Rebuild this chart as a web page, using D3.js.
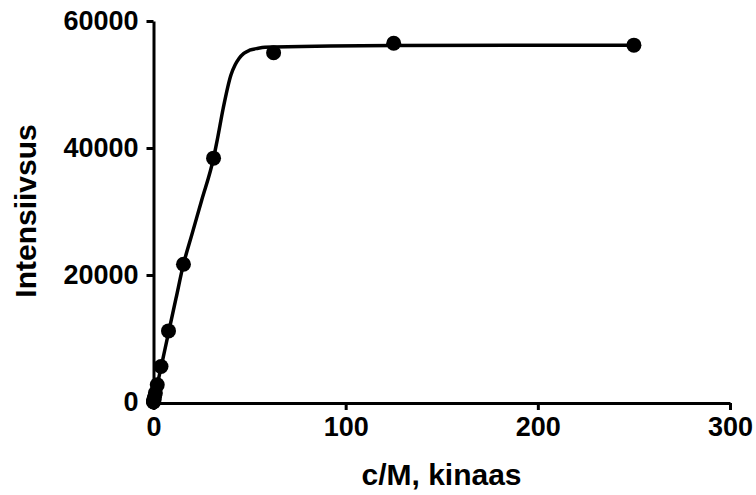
<!DOCTYPE html>
<html>
<head>
<meta charset="utf-8">
<script src="https://cdn.jsdelivr.net/npm/d3@7"></script>
<style>
    body { margin: 0; background: #fff; }
    text { font-family: "Liberation Sans", Arial, sans-serif; font-weight: bold; fill: #000; }
</style>
</head>
<body>
<svg id="chart" width="756" height="495"></svg>
<script>
// measured points (dilution series)
const concentrations = [0, 0.06, 0.12, 0.24, 0.49, 0.98, 1.95, 3.9, 7.8, 15.6, 31.25, 62.5, 125, 250];
const intensities = [0, 90, 180, 350, 700, 1400, 2700, 5600, 11200, 21700, 38400, 55000, 56500, 56200];

// fitted curve
const fitX = [0, 3.9, 7.8, 11.7, 15.6, 20, 25, 31.25, 33.2, 36.3, 40.3, 42.5, 44.5, 47, 50, 54.5, 58, 62.7, 125, 250];
const fitY = [0, 5400, 10900, 16300, 21700, 26400, 31700, 38400, 41300, 46300, 51500, 53100, 54100, 54900, 55400, 55700, 55850, 55900, 56150, 56200];

const xTicks = [0, 100, 200, 300];
const yTicks = [0, 20000, 40000, 60000];

const svg = d3.select("#chart");

const x = d3.scaleLinear().domain([0, 300]).range([153.5, 730]);
const y = d3.scaleLinear().domain([0, 60000]).range([402, 21]);

// axes
const xAxis = svg.append("g")
    .attr("transform", "translate(0,403)")
    .call(d3.axisBottom(x).tickValues(xTicks).tickFormat(d3.format("d"))
        .tickSize(7).tickSizeOuter(0).tickPadding(7));

const yAxis = svg.append("g")
    .attr("transform", "translate(153.5,0)")
    .call(d3.axisLeft(y).tickValues(yTicks).tickFormat(d3.format("d"))
        .tickSize(7).tickSizeOuter(0).tickPadding(8));

[xAxis, yAxis].forEach(ax => {
    ax.select(".domain").attr("stroke", "#000").attr("stroke-width", 3);
    ax.selectAll(".tick line").attr("stroke", "#000").attr("stroke-width", 3);
    ax.selectAll(".tick text")
        .style("font-family", '"Liberation Sans", Arial, sans-serif')
        .style("font-weight", "bold")
        .style("font-size", "27px")
        .attr("fill", "#000");
});

// fit line
const line = d3.line()
    .x((d, i) => x(fitX[i]))
    .y((d, i) => y(fitY[i]))
    .curve(d3.curveMonotoneX);

svg.append("path")
    .datum(fitX)
    .attr("d", line)
    .attr("fill", "none")
    .attr("stroke", "#000")
    .attr("stroke-width", 3.5);

// points
svg.append("g")
    .selectAll("circle")
    .data(concentrations)
    .enter().append("circle")
    .attr("cx", d => x(d))
    .attr("cy", (d, i) => y(intensities[i]))
    .attr("r", 7.5)
    .attr("fill", "#000");

// axis titles
svg.append("text")
    .attr("x", 441.5)
    .attr("y", 485)
    .attr("text-anchor", "middle")
    .style("font-size", "30px")
    .text("c/M, kinaas");

svg.append("text")
    .attr("transform", "translate(36,211) rotate(-90)")
    .attr("text-anchor", "middle")
    .style("font-size", "30px")
    .text("Intensiivsus");
</script>
</body>
</html>
